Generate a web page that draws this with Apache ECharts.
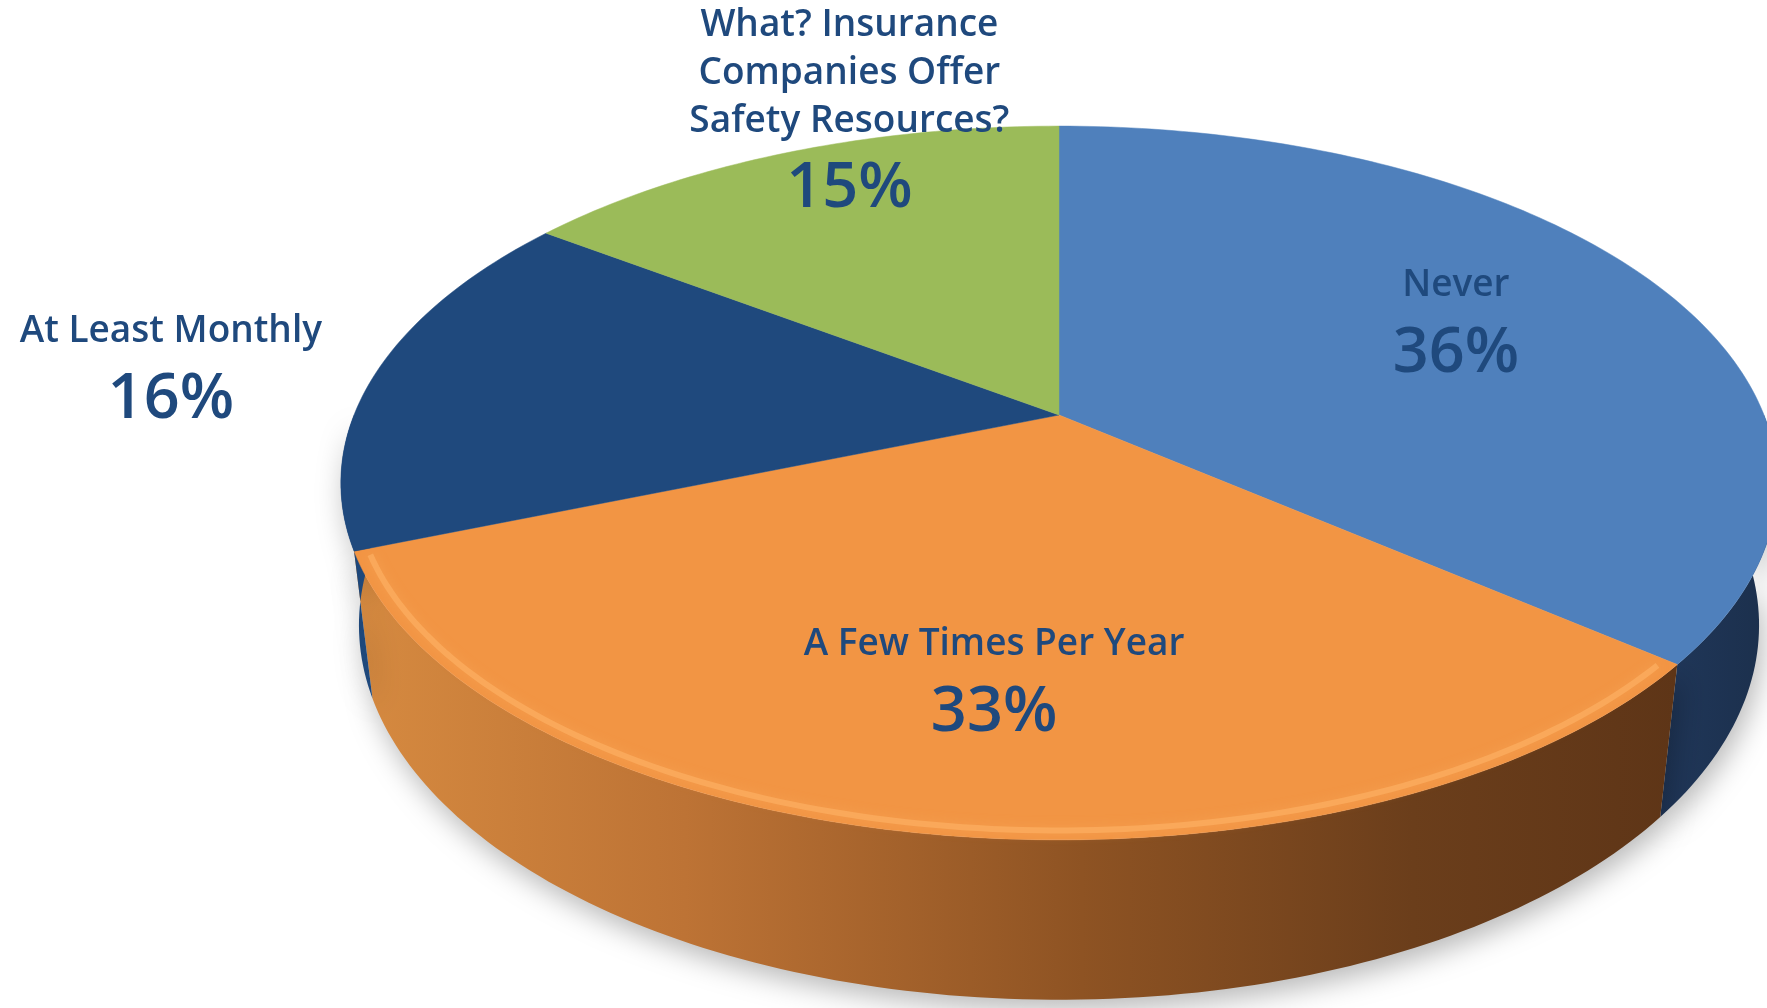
<!DOCTYPE html>
<html>
<head>
<meta charset="utf-8">
<script src="https://cdn.jsdelivr.net/npm/echarts@6/dist/echarts.min.js"></script>
<style>
html,body{margin:0;padding:0;background:#fff;}
#chart{width:1767px;height:1008px;}
</style>
</head>
<body>
<div id="chart"></div>
<script>
// ---- data ----
const categories = ['Never', 'A Few Times Per Year', 'At Least Monthly', 'What? Insurance\nCompanies Offer\nSafety Resources?'];
const values = [36, 33, 16, 15];

// ---- style ----
const topColors = ['#4F80BC', '#F29544', '#1F497D', '#9BBB59'];
const sideColors = [
  {type:'linear',x:0,y:0,x2:1,y2:0,colorStops:[{offset:0,color:'#20375A'},{offset:1,color:'#1B2F4B'}]},
  {type:'linear',x:0,y:0,x2:1,y2:0,colorStops:[
    {offset:0,color:'#D68A40'},{offset:0.25,color:'#BD7335'},{offset:0.55,color:'#8E5323'},
    {offset:0.8,color:'#6B3E1B'},{offset:1,color:'#5E3517'}]},
  {type:'linear',x:0,y:0,x2:1,y2:0,colorStops:[{offset:0,color:'#1C4576'},{offset:1,color:'#1F497D'}]},
  '#7E9A46'
];
const rimColors = [null, 'rgba(255,182,105,0.55)', null, null];
const labelColor = '#1F497D';
const labelPlace = [
  {r:0.65, dx:3, dy:29},
  {r:0.70, dx:24, dy:24},
  {r:1.27, dx:-26, dy:38},
  {r:1.00, dx:64, dy:36}
];
const VIEW = {cx:1059, cy:415, radius:705, tilt:29.2, dist:3231, depth:165};

const total = values.reduce((a,b)=>a+b,0);
const starts = [];
{ let acc = 0; values.forEach(v => { starts.push(acc / total * 360); acc += v; }); }

function makeProj(api){
  const sc = api.getWidth() / 1767;
  const cx = VIEW.cx*sc, cy = VIEW.cy*sc, R = VIEW.radius*sc, D = VIEW.dist*sc, H = VIEW.depth*sc;
  const s = Math.sin(VIEW.tilt*Math.PI/180), c = Math.cos(VIEW.tilt*Math.PI/180);
  function proj(thetaDeg, rf, yh){
    const t = thetaDeg*Math.PI/180;
    const X = rf*R*Math.sin(t), Z = -rf*R*Math.cos(t), Y = yh;
    const u = Y*c - Z*s, d = Y*s + Z*c, k = D/(D-d);
    return [cx + X*k, cy - u*k];
  }
  return {proj, H, cx, cy};
}

function arcPts(P, a, b, rf, yh){
  const pts = [];
  const n = Math.max(2, Math.ceil(Math.abs(b-a)));
  for (let i=0;i<=n;i++){ pts.push(P.proj(a + (b-a)*i/n, rf, yh)); }
  return pts;
}

function renderSide(params, api){
  const i = params.dataIndex;
  const P = makeProj(api);
  const a0 = starts[i], a1 = starts[i] + values[i]/total*360;
  const a = Math.max(a0, 90), b = Math.min(a1, 270);
  if (b <= a) return {type:'group', children:[]};
  const top = arcPts(P, a, b, 1, 0);
  const bot = arcPts(P, b, a, 1, -P.H);
  return {
    type:'polygon',
    shape:{points: top.concat(bot)},
    style:{fill: sideColors[i], shadowBlur:28, shadowColor:'rgba(0,0,0,0.28)', shadowOffsetY:10, shadowOffsetX:4}
  };
}

function renderTop(params, api){
  const i = params.dataIndex;
  const P = makeProj(api);
  const a0 = starts[i], a1 = starts[i] + values[i]/total*360;
  const pts = [P.proj(0,0,0)].concat(arcPts(P, a0, a1, 1, 0));
  const children = [{
    type:'polygon', shape:{points:pts},
    style:{fill: topColors[i], stroke: topColors[i], lineWidth:0.5}
  }];
  const a = Math.max(a0 + 1, 92), b = Math.min(a1 - 1, 268);
  if (b > a && rimColors[i]) {
    children.push({
      type:'polyline', shape:{points: arcPts(P, a, b, 0.982, 0)},
      style:{stroke: rimColors[i], lineWidth:6, fill:null, shadowBlur:12, shadowColor: rimColors[i]}
    });
  }
  const mid = (a0 + a1)/2, lp = labelPlace[i];
  const base = P.proj(mid, lp.r, 0);
  const px = base[0] + lp.dx, py = base[1] + lp.dy;
  const pct = Math.round(values[i]/total*100) + '%';
  children.push({
    type:'text', z2:10,
    style:{text: pct, x:px, y:py, align:'center', verticalAlign:'middle',
      fill: labelColor, font:'600 63px "Open Sans", Lato, sans-serif'}
  });
  children.push({
    type:'text', z2:10,
    style:{text: categories[i], x:px, y:py - 44, align:'center', verticalAlign:'bottom',
      lineHeight:48, fill: labelColor, font:'600 37px "Open Sans", Lato, sans-serif'}
  });
  return {type:'group', children};
}

const chart = echarts.init(document.getElementById('chart'), null, {renderer:'canvas'});
const seriesData = values.map((v,i)=>({name: categories[i], value:[i, v]}));
chart.setOption({
  backgroundColor:'#ffffff',
  animation:false,
  series:[
    {type:'custom', coordinateSystem:'none', renderItem: renderSide, data: seriesData, z:1, silent:true},
    {type:'custom', coordinateSystem:'none', renderItem: renderTop, data: seriesData, z:2, silent:true}
  ]
});
</script>
</body>
</html>
